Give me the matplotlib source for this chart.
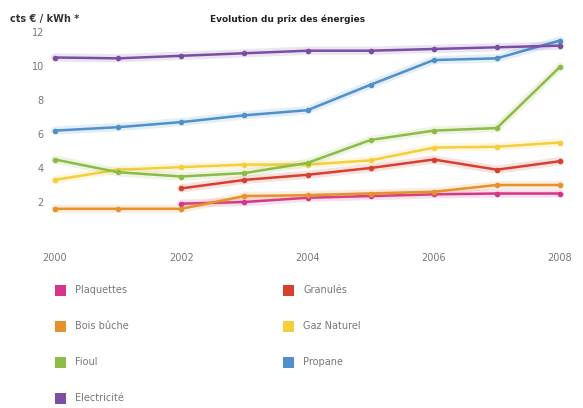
import matplotlib
matplotlib.use("Agg")
import matplotlib.pyplot as plt
from matplotlib.patches import Rectangle
import numpy as np

years = [2000, 2001, 2002, 2003, 2004, 2005, 2006, 2007, 2008]
series_names = ["Plaquettes", "Granulés", "Bois bûche", "Gaz Naturel", "Fioul", "Propane", "Electricité"]
plaquettes = [None, None, 1.9, 2.0, 2.25, 2.35, 2.45, 2.5, 2.5]
granules = [None, None, 2.8, 3.3, 3.6, 4.0, 4.5, 3.9, 4.4]
bois_buche = [1.6, 1.6, 1.6, 2.35, 2.4, 2.5, 2.6, 3.0, 3.0]
gaz_naturel = [3.3, 3.9, 4.05, 4.2, 4.2, 4.45, 5.2, 5.25, 5.5]
fioul = [4.5, 3.75, 3.5, 3.7, 4.3, 5.65, 6.2, 6.35, 9.95]
propane = [6.2, 6.4, 6.7, 7.1, 7.4, 8.9, 10.35, 10.45, 11.5]
electricite = [10.5, 10.45, 10.6, 10.75, 10.9, 10.9, 11.0, 11.1, 11.2]
y_ticks = [2, 4, 6, 8, 10, 12]
x_ticks = [2000, 2002, 2004, 2006, 2008]

values = [plaquettes, granules, bois_buche, gaz_naturel, fioul, propane, electricite]
colors = ["#d4358a", "#d6402e", "#e6902e", "#f4cf3a", "#8dbb45", "#4f8fcc", "#7a4fa3"]

fig = plt.figure(figsize=(5.83, 4.08), dpi=100)
ax = fig.add_axes([55/583, 1-236/408, (560-55)/583, (236-32)/408])

for vals, c in zip(values, colors):
    xs = [x for x, v in zip(years, vals) if v is not None]
    ys = [v for v in vals if v is not None]
    ax.plot(xs, ys, color=c, lw=6, alpha=0.15, solid_capstyle="round", clip_on=False)
    ax.plot(xs, ys, color=c, lw=1.8, marker="o", ms=3, clip_on=False)

ax.set_xlim(2000, 2008)
ax.set_ylim(0, 12)
ax.set_xticks(x_ticks)
ax.set_xticklabels([str(t) for t in x_ticks], fontsize=7, color="#777777")
ax.set_yticks(y_ticks)
ax.set_yticklabels([str(t) for t in y_ticks], fontsize=7, color="#777777")
ax.tick_params(length=0)
ax.tick_params(axis="x", pad=12)
ax.tick_params(axis="y", pad=8)
for s in ax.spines.values():
    s.set_visible(False)

fig.text(10/583, 1-19/408, "cts € / kWh *", fontsize=7, fontweight="bold", color="#333333", va="center")
fig.text(288/583, 1-19/408, "Evolution du prix des énergies", fontsize=6.5, fontweight="bold",
         color="#222222", ha="center", va="center")

# legend
positions = [(55, 290), (283, 290), (55, 326), (283, 326), (55, 362), (283, 362), (55, 398)]
for name, c, (px, py) in zip(series_names, colors, positions):
    fig.add_artist(Rectangle((px/583, (408-py-6)/408), 11/583, 11/408, transform=fig.transFigure,
                             facecolor=c, edgecolor="none"))
    fig.text((px+20)/583, (408-py)/408, name, fontsize=7, color="#777777", va="center")

fig.savefig("out.png", dpi=100, facecolor="white")
